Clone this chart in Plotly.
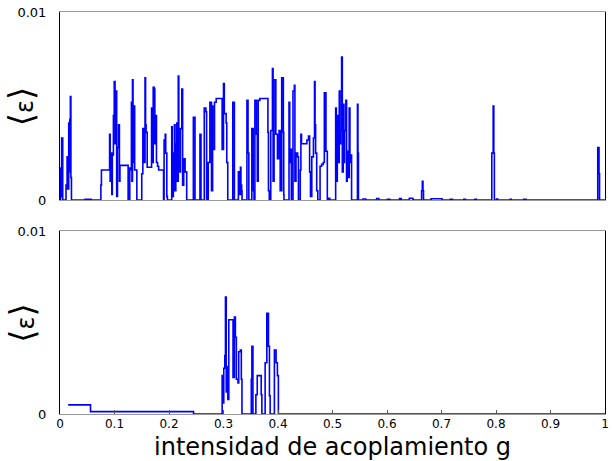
import plotly.graph_objects as go

# Upper panel: mean energy <ε> versus coupling strength g (values in units of 1e-3)
g_top = [
    0.000, 0.001, 0.002, 0.003, 0.005, 0.010, 0.011, 0.013, 0.014, 0.016,
    0.017, 0.018, 0.019, 0.020, 0.021, 0.045, 0.046, 0.056, 0.057, 0.074,
    0.075, 0.076, 0.090, 0.091, 0.092, 0.093, 0.095, 0.096, 0.098, 0.0995,
    0.101, 0.1025, 0.104, 0.1055, 0.1075, 0.109, 0.110, 0.124, 0.125, 0.127,
    0.128, 0.1295, 0.131, 0.132, 0.133, 0.134, 0.1355, 0.137, 0.140, 0.141,
    0.149, 0.150, 0.152, 0.154, 0.156, 0.157, 0.158, 0.160, 0.167, 0.168,
    0.170, 0.171, 0.173, 0.174, 0.175, 0.177, 0.179, 0.181, 0.189, 0.190,
    0.191, 0.193, 0.194, 0.196, 0.197, 0.204, 0.205, 0.206, 0.208, 0.210,
    0.211, 0.2125, 0.2143, 0.215, 0.217, 0.218, 0.220, 0.221, 0.2235, 0.225,
    0.227, 0.2295, 0.2325, 0.244, 0.2447, 0.2477, 0.256, 0.2568, 0.2587, 0.264,
    0.2647, 0.2677, 0.269, 0.2715, 0.272, 0.275, 0.278, 0.280, 0.2805, 0.2835,
    0.2866, 0.2957, 0.2975, 0.300, 0.3015, 0.3048, 0.306, 0.3078, 0.316, 0.317,
    0.320, 0.326, 0.3273, 0.329, 0.331, 0.332, 0.3333, 0.334, 0.342, 0.343,
    0.345, 0.3465, 0.351, 0.352, 0.3545, 0.356, 0.3576, 0.3606, 0.362, 0.3637,
    0.3667, 0.3807, 0.3815, 0.3825, 0.384, 0.3867, 0.3898, 0.391, 0.3928, 0.396,
    0.399, 0.402, 0.404, 0.4068, 0.4098, 0.4105, 0.411, 0.419, 0.4202, 0.4215,
    0.423, 0.4245, 0.4275, 0.430, 0.431, 0.433, 0.436, 0.4375, 0.4408, 0.442,
    0.4432, 0.453, 0.456, 0.458, 0.4596, 0.462, 0.465, 0.467, 0.468, 0.469,
    0.471, 0.473, 0.4772, 0.480, 0.483, 0.485, 0.488, 0.4905, 0.492, 0.495,
    0.5046, 0.5058, 0.507, 0.5088, 0.511, 0.5124, 0.5136, 0.5148, 0.5167, 0.518,
    0.5197, 0.521, 0.5221, 0.5245, 0.5258, 0.527, 0.529, 0.5306, 0.532, 0.533,
    0.535, 0.545, 0.5458, 0.5467, 0.5476, 0.555, 0.556, 0.560, 0.561, 0.580,
    0.581, 0.585, 0.600, 0.601, 0.604, 0.605, 0.622, 0.623, 0.626, 0.640,
    0.641, 0.647, 0.648, 0.663, 0.6635, 0.6648, 0.666, 0.667, 0.680, 0.681,
    0.700, 0.701, 0.715, 0.716, 0.720, 0.740, 0.741, 0.744, 0.760, 0.761,
    0.764, 0.791, 0.7923, 0.7948, 0.796, 0.797, 0.800, 0.801, 0.803, 0.825,
    0.826, 0.828, 0.850, 0.851, 0.855, 0.9866, 0.9867, 0.989, 0.990, 1.000,
]
eps_top = [
    0.0, 1.7, 0.2, 3.3, 0.0, 0.0, 0.8, 2.3, 0.6, 4.1,
    1.5, 4.3, 5.5, 1.2, 0.0, 0.0, 0.05, 0.05, 0.0, 0.0,
    0.8, 1.6, 1.6, 3.5, 1.0, 2.5, 0.3, 2.4, 4.5, 6.3,
    3.0, 5.8, 0.2, 2.8, 4.0, 1.0, 1.85, 1.85, 0.0, 0.0,
    1.7, 1.6, 5.2, 1.0, 6.4, 2.0, 5.0, 1.6, 1.6, 0.0,
    0.0, 1.4, 3.8, 2.0, 6.5, 4.0, 3.6, 1.75, 1.75, 4.9,
    2.0, 6.0, 5.9, 3.0, 4.5, 2.0, 1.8, 1.6, 1.6, 0.0,
    3.2, 3.5, 2.5, 0.2, 0.0, 0.0, 3.9, 0.2, 2.5, 4.0,
    0.5, 3.0, 4.1, 1.0, 6.6, 2.0, 1.5, 3.8, 5.9, 0.8,
    2.2, 1.5, 0.0, 0.0, 4.4, 0.0, 0.0, 3.5, 0.0, 0.0,
    4.9, 4.7, 0.0, 0.0, 2.0, 5.2, 0.5, 5.0, 2.7, 5.2,
    5.4, 5.4, 2.7, 6.2, 4.6, 4.1, 2.0, 0.0, 0.0, 5.2,
    0.0, 0.0, 1.5, 0.3, 1.75, 0.8, 0.5, 0.0, 0.0, 5.3,
    2.5, 0.0, 0.0, 3.8, 0.5, 0.0, 5.3, 3.5, 1.0, 5.3,
    5.4, 5.4, 3.6, 0.5, 0.0, 3.7, 7.0, 1.0, 6.4, 3.5,
    2.2, 3.7, 0.5, 6.5, 3.6, 0.3, 0.0, 0.0, 5.2, 2.0,
    2.7, 0.0, 5.8, 6.1, 1.0, 2.5, 2.3, 0.0, 1.6, 3.5,
    3.0, 3.2, 3.4, 1.5, 0.2, 2.3, 3.3, 6.3, 4.0, 2.5,
    0.5, 0.0, 1.8, 1.9, 2.0, 5.7, 2.6, 0.0, 0.1, 0.0,
    0.0, 4.9, 1.0, 4.5, 2.0, 5.8, 3.0, 3.7, 7.6, 1.5,
    5.1, 2.0, 3.7, 5.3, 1.0, 2.6, 1.2, 4.9, 2.0, 2.4,
    0.0, 0.0, 5.1, 2.5, 0.0, 0.0, 0.06, 0.06, 0.0, 0.0,
    0.08, 0.0, 0.0, 0.05, 0.05, 0.0, 0.0, 0.08, 0.0, 0.0,
    0.1, 0.06, 0.0, 0.0, 0.5, 1.0, 0.5, 0.0, 0.0, 0.07,
    0.07, 0.0, 0.0, 0.04, 0.0, 0.0, 0.05, 0.0, 0.0, 0.04,
    0.0, 0.0, 2.5, 5.0, 2.5, 0.0, 0.0, 0.06, 0.0, 0.0,
    0.05, 0.0, 0.0, 0.04, 0.0, 0.0, 2.8, 1.4, 0.0, 0.0,
]

# Lower panel
g_bot = [
    0.015, 0.055, 0.056, 0.243, 0.245, 0.296, 0.2975, 0.2985, 0.3005, 0.3024,
    0.3036, 0.305, 0.3066, 0.308, 0.3097, 0.3157, 0.3175, 0.320, 0.3218, 0.3236,
    0.3266, 0.3279, 0.3309, 0.3327, 0.3339, 0.3491, 0.351, 0.3521, 0.354, 0.358,
    0.3594, 0.3619, 0.3673, 0.3692, 0.3704, 0.375, 0.3764, 0.3795, 0.3825, 0.3843,
    0.3856, 0.392, 0.3934, 0.3965, 0.3989, 0.4007, 1.000,
]
eps_bot = [
    0.5, 0.5, 0.13, 0.13, 0.0, 0.0, 2.1, 0.6, 2.5, 3.2,
    6.4, 1.2, 2.6, 0.8, 5.15, 5.15, 2.0, 5.3, 4.2, 1.9,
    1.7, 3.4, 3.5, 1.9, 0.0, 0.0, 1.9, 3.7, 0.0, 0.0,
    1.05, 2.1, 2.1, 1.05, 0.0, 0.0, 2.8, 5.5, 3.7, 1.0,
    0.0, 0.0, 3.5, 2.8, 2.1, 0.0, 0.0,
]

x_ticks = [0, 0.1, 0.2, 0.3, 0.4, 0.5, 0.6, 0.7, 0.8, 0.9, 1]
x_tick_text = ["0", "0.1", "0.2", "0.3", "0.4", "0.5", "0.6", "0.7", "0.8", "0.9", "1"]
y_ticks = [0, 0.01]
y_tick_text = ["0", "0.01"]

BLUE = "#0000ff"
TICK_FONT = dict(family="DejaVu Sans", size=13, color="#000000")

fig = go.Figure()
fig.add_trace(go.Scatter(
    x=g_top, y=[v / 1000 for v in eps_top], mode="lines",
    line=dict(color=BLUE, width=1.6, shape="hv"), xaxis="x", yaxis="y",
    hoverinfo="skip",
))
fig.add_trace(go.Scatter(
    x=g_bot, y=[v / 1000 for v in eps_bot], mode="lines",
    line=dict(color=BLUE, width=1.6, shape="hv"), xaxis="x2", yaxis="y2",
    hoverinfo="skip",
))

x_common = dict(range=[0, 1], showgrid=False, zeroline=False,
                showline=True, linecolor="#9a9a9a", linewidth=1, mirror=True)
y_common = dict(range=[0, 0.01], showgrid=False, zeroline=False,
                showline=True, linecolor="#000000", linewidth=1, mirror=True,
                tickvals=y_ticks, ticktext=y_tick_text, ticks="",
                ticklabelstandoff=10, tickfont=TICK_FONT)

fig.update_layout(
    width=612, height=461,
    margin=dict(l=60, r=3, t=12, b=47),
    paper_bgcolor="white", plot_bgcolor="white",
    showlegend=False,
    xaxis=dict(**x_common, domain=[0, 1], anchor="y", showticklabels=False, ticks=""),
    yaxis=dict(**y_common, domain=[0.532, 1.0], anchor="x"),
    xaxis2=dict(**x_common, domain=[0, 1], anchor="y2",
                tickvals=x_ticks, ticktext=x_tick_text, ticks="inside",
                ticklen=4, tickcolor="#555555",
                tickfont=dict(family="DejaVu Sans", size=12, color="#000000"),
                ticklabelstandoff=-1, ticklabeloverflow="allow"),
    yaxis2=dict(**y_common, domain=[0.0, 0.455], anchor="x2"),
)

# y-axis label: angle brackets drawn larger than the epsilon
bracket = "font-size:34px"
y_label = (f"<span style='{bracket}'>⟨</span>ε"
           f"<span style='{bracket}'>⟩</span>")
for yc in [(0.532 + 1.0) / 2, 0.455 / 2]:
    fig.add_annotation(text=y_label, xref="paper", yref="paper",
                       x=-0.071, y=yc, textangle=-90, showarrow=False,
                       font=dict(family="DejaVu Sans", size=24, color="#000000"),
                       xanchor="center", yanchor="middle")

fig.add_annotation(text="intensidad de acoplamiento g", xref="paper", yref="paper",
                   x=0.5, y=-0.083, showarrow=False,
                   font=dict(family="DejaVu Sans", size=24, color="#000000"),
                   xanchor="center", yanchor="middle")

fig.write_html("out.html")
